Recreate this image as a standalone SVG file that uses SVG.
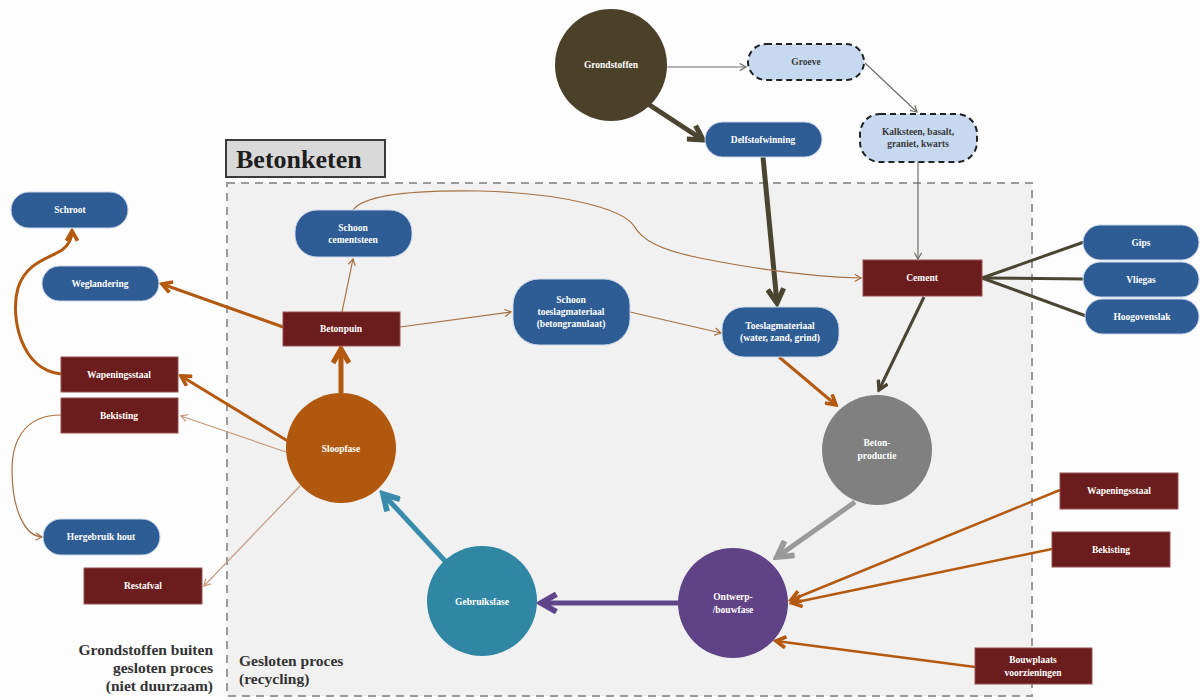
<svg xmlns="http://www.w3.org/2000/svg" width="1200" height="700" viewBox="0 0 1200 700">
<defs>
<style>
.t{font-family:"Liberation Serif","DejaVu Serif",serif;font-size:9.5px;font-weight:bold;fill:#fff;text-anchor:middle}
.td{font-family:"Liberation Serif","DejaVu Serif",serif;font-size:9.5px;font-weight:bold;fill:#3a3a3a;text-anchor:middle}
.blue{fill:#2e5c95;stroke:#c9d7ea;stroke-width:1}
.red{fill:#6b1c1c;stroke:#9a5050;stroke-width:1}
.lb{fill:#c6d9f0;stroke:#222;stroke-width:2;stroke-dasharray:6,4}
.big{font-family:"Liberation Serif","DejaVu Serif",serif;font-size:15.5px;font-weight:bold;fill:#333}
path,line{fill:none}
</style>
<marker id="aOl" viewBox="0 0 10 10" refX="8" refY="5" markerUnits="userSpaceOnUse" markerWidth="20" markerHeight="20" orient="auto"><path d="M1,1 L8,5 L1,9" fill="none" stroke="#4a4530" stroke-width="2.6"/></marker>
<marker id="aOm" viewBox="0 0 10 10" refX="8" refY="5" markerUnits="userSpaceOnUse" markerWidth="13" markerHeight="13" orient="auto"><path d="M1,1 L8,5 L1,9" fill="none" stroke="#4a4530" stroke-width="2.6"/></marker>
<marker id="aGt" viewBox="0 0 10 10" refX="8" refY="5" markerUnits="userSpaceOnUse" markerWidth="9" markerHeight="9" orient="auto"><path d="M1,1 L8,5 L1,9" fill="none" stroke="#6f6f6a" stroke-width="1.4"/></marker>
<marker id="aOrL" viewBox="0 0 10 10" refX="8" refY="5" markerUnits="userSpaceOnUse" markerWidth="20" markerHeight="20" orient="auto"><path d="M1,1 L8,5 L1,9" fill="none" stroke="#b45a10" stroke-width="2.6"/></marker>
<marker id="aOrM" viewBox="0 0 10 10" refX="8" refY="5" markerUnits="userSpaceOnUse" markerWidth="14" markerHeight="14" orient="auto"><path d="M1,1 L8,5 L1,9" fill="none" stroke="#b45a10" stroke-width="2.6"/></marker>
<marker id="aOrT" viewBox="0 0 10 10" refX="8" refY="5" markerUnits="userSpaceOnUse" markerWidth="9" markerHeight="9" orient="auto"><path d="M1,1 L8,5 L1,9" fill="none" stroke="#a8703f" stroke-width="1.4"/></marker>
<marker id="aLt" viewBox="0 0 10 10" refX="8" refY="5" markerUnits="userSpaceOnUse" markerWidth="9" markerHeight="9" orient="auto"><path d="M1,1 L8,5 L1,9" fill="none" stroke="#c49a80" stroke-width="1.4"/></marker>
<marker id="aGr" viewBox="0 0 10 10" refX="8" refY="5" markerUnits="userSpaceOnUse" markerWidth="22" markerHeight="22" orient="auto"><path d="M1,1 L8,5 L1,9" fill="none" stroke="#9a9a9a" stroke-width="2.6"/></marker>
<marker id="aPu" viewBox="0 0 10 10" refX="8" refY="5" markerUnits="userSpaceOnUse" markerWidth="22" markerHeight="22" orient="auto"><path d="M1,1 L8,5 L1,9" fill="none" stroke="#5f468c" stroke-width="2.6"/></marker>
<marker id="aTe" viewBox="0 0 10 10" refX="8" refY="5" markerUnits="userSpaceOnUse" markerWidth="22" markerHeight="22" orient="auto"><path d="M1,1 L8,5 L1,9" fill="none" stroke="#3a8cad" stroke-width="2.6"/></marker>
</defs>
<rect width="1200" height="700" fill="#fdfdfd"/>
<rect x="227" y="183" width="805" height="513" fill="#f1f1f1" stroke="#9a9a9a" stroke-width="2" stroke-dasharray="8,6"/>
<g id="title"><rect x="226" y="140" width="159" height="37" fill="#d9d9d9" stroke="#3a3a3a" stroke-width="2"/><text x="236" y="168" font-family="Liberation Serif, serif" font-size="26" font-weight="bold" fill="#1e1e1e">Betonketen</text></g>
<g id="labels">
<text class="big" text-anchor="end" x="213" y="655">Grondstoffen buiten</text>
<text class="big" text-anchor="end" x="213" y="673">gesloten proces</text>
<text class="big" text-anchor="end" x="213" y="691">(niet duurzaam)</text>
<text class="big" x="239" y="666">Gesloten proces</text>
<text class="big" x="239" y="684">(recycling)</text>
</g>
<g id="connectors">
<line x1="667" y1="67" x2="746" y2="67" stroke="#6f6f6a" stroke-width="1.2" marker-end="url(#aGt)"/>
<line x1="865" y1="63" x2="917" y2="112" stroke="#6f6f6a" stroke-width="1.2" marker-end="url(#aGt)"/>
<line x1="918" y1="162" x2="918" y2="259" stroke="#6f6f6a" stroke-width="1.2" marker-end="url(#aGt)"/>
<line x1="645" y1="102" x2="703" y2="140" stroke="#4a4530" stroke-width="5" marker-end="url(#aOl)"/>
<line x1="763" y1="157" x2="777" y2="303" stroke="#4a4530" stroke-width="5" marker-end="url(#aOl)"/>
<line x1="982" y1="278" x2="1084" y2="242" stroke="#4a4530" stroke-width="3"/>
<line x1="982" y1="278" x2="1084" y2="279" stroke="#4a4530" stroke-width="3"/>
<line x1="982" y1="278" x2="1086" y2="316" stroke="#4a4530" stroke-width="3"/>
<line x1="924" y1="297" x2="879" y2="390" stroke="#4a4530" stroke-width="3" marker-end="url(#aOm)"/>
<line x1="779" y1="357" x2="836" y2="405" stroke="#b45a10" stroke-width="3" marker-end="url(#aOrM)"/>
<line x1="855" y1="502" x2="777" y2="557" stroke="#9a9a9a" stroke-width="5" marker-end="url(#aGr)"/>
<line x1="678" y1="603" x2="541" y2="603" stroke="#5f468c" stroke-width="5" marker-end="url(#aPu)"/>
<line x1="446" y1="562" x2="383" y2="494" stroke="#3a8cad" stroke-width="5" marker-end="url(#aTe)"/>
<line x1="341" y1="393" x2="341" y2="349" stroke="#b45a10" stroke-width="5" marker-end="url(#aOrL)"/>
<line x1="283" y1="327" x2="162" y2="284" stroke="#b45a10" stroke-width="3" marker-end="url(#aOrM)"/>
<line x1="291" y1="443" x2="181" y2="376" stroke="#b45a10" stroke-width="3" marker-end="url(#aOrM)"/>
<line x1="286" y1="452" x2="181" y2="416" stroke="#c49a80" stroke-width="1.2" marker-end="url(#aLt)"/>
<line x1="300" y1="486" x2="204" y2="586" stroke="#c49a80" stroke-width="1.2" marker-end="url(#aLt)"/>
<line x1="342" y1="312" x2="353" y2="259" stroke="#a8703f" stroke-width="1.2" marker-end="url(#aOrT)"/>
<line x1="400" y1="327" x2="511" y2="312" stroke="#a8703f" stroke-width="1.2" marker-end="url(#aOrT)"/>
<line x1="630" y1="312" x2="721" y2="333" stroke="#a8703f" stroke-width="1.2" marker-end="url(#aOrT)"/>
<path d="M353,210 C365,193 420,190 480,191 C560,193 622,208 634,226 C642,240 660,250 700,258 C760,270 820,277 861,278" stroke="#a8703f" stroke-width="1.2" marker-end="url(#aOrT)"/>
<path d="M61,374 C20,370 10,315 18,288 C26,262 50,258 62,250 C70,244 72,238 72,231" stroke="#b45a10" stroke-width="3" marker-end="url(#aOrM)"/>
<path d="M61,415 C25,415 12,440 12,470 C12,510 25,536 42,537" stroke="#a8703f" stroke-width="1.2" marker-end="url(#aOrT)"/>
<line x1="1060" y1="490" x2="791" y2="600" stroke="#b45a10" stroke-width="2.5" marker-end="url(#aOrM)"/>
<line x1="1052" y1="549" x2="792" y2="603" stroke="#b45a10" stroke-width="2.5" marker-end="url(#aOrM)"/>
<line x1="975" y1="667" x2="776" y2="641" stroke="#b45a10" stroke-width="2.5" marker-end="url(#aOrM)"/>
</g>
<g id="grondstoffen"><circle cx="611" cy="65" r="56" fill="#4b4128"/><text class="t" x="611" y="68">Grondstoffen</text></g>
<g id="groeve"><rect class="lb" x="748" y="44" width="116" height="36" rx="18"/><text class="td" x="806" y="65">Groeve</text></g>
<g id="kalksteen"><rect class="lb" x="860" y="114" width="117" height="48" rx="20"/><text class="td" x="918" y="135">Kalksteen, basalt,</text><text class="td" x="918" y="147">graniet, kwarts</text></g>
<g id="delfstofwinning"><rect class="blue" x="705" y="122" width="117" height="35" rx="17.5"/><text class="t" x="763" y="143">Delfstofwinning</text></g>
<g id="schroot"><rect class="blue" x="11" y="192" width="117" height="36" rx="18"/><text class="t" x="70" y="213">Schroot</text></g>
<g id="weglandering"><rect class="blue" x="42" y="266" width="117" height="35" rx="17.5"/><text class="t" x="100" y="287">Weglandering</text></g>
<g id="schoon-cementsteen"><rect class="blue" x="295" y="210" width="117" height="47" rx="22"/><text class="t" x="353" y="231">Schoon</text><text class="t" x="353" y="243">cementsteen</text></g>
<g id="betonpuin"><rect class="red" x="283" y="312" width="117" height="34"/><text class="t" x="341" y="332">Betonpuin</text></g>
<g id="schoon-toeslag"><rect class="blue" x="513" y="279" width="117" height="66" rx="26"/><text class="t" x="571" y="303">Schoon</text><text class="t" x="571" y="315">toeslagmateriaal</text><text class="t" x="571" y="327">(betongranulaat)</text></g>
<g id="toeslagmateriaal"><rect class="blue" x="722" y="307" width="117" height="50" rx="22"/><text class="t" x="780" y="329">Toeslagmateriaal</text><text class="t" x="780" y="341">(water, zand, grind)</text></g>
<g id="cement"><rect class="red" x="863" y="260" width="119" height="36"/><text class="t" x="922" y="281">Cement</text></g>
<g id="gips"><rect class="blue" x="1083" y="225" width="116" height="35" rx="17.5"/><text class="t" x="1141" y="246">Gips</text></g>
<g id="vliegas"><rect class="blue" x="1083" y="262" width="116" height="35" rx="17.5"/><text class="t" x="1141" y="283">Vliegas</text></g>
<g id="hoogovenslak"><rect class="blue" x="1085" y="299" width="114" height="35" rx="17.5"/><text class="t" x="1142" y="320">Hoogovenslak</text></g>
<g id="wapeningsstaal-l"><rect class="red" x="61" y="357" width="117" height="35"/><text class="t" x="119" y="378">Wapeningsstaal</text></g>
<g id="bekisting-l"><rect class="red" x="61" y="398" width="117" height="35"/><text class="t" x="119" y="419">Bekisting</text></g>
<g id="sloopfase"><circle cx="341" cy="448" r="55" fill="#b0590e"/><text class="t" x="341" y="452">Sloopfase</text></g>
<g id="hergebruik-hout"><rect class="blue" x="43" y="519" width="117" height="36" rx="18"/><text class="t" x="101" y="540">Hergebruik hout</text></g>
<g id="restafval"><rect class="red" x="84" y="568" width="118" height="36"/><text class="t" x="143" y="589">Restafval</text></g>
<g id="betonproductie"><circle cx="877" cy="450" r="55" fill="#808080"/><text class="t" x="877" y="446">Beton-</text><text class="t" x="877" y="459">productie</text></g>
<g id="ontwerp"><circle cx="733" cy="603" r="55" fill="#5f4386"/><text class="t" x="733" y="600">Ontwerp-</text><text class="t" x="733" y="613">/bouwfase</text></g>
<g id="gebruiksfase"><circle cx="482" cy="601" r="55" fill="#2f87a3"/><text class="t" x="482" y="605">Gebruiksfase</text></g>
<g id="wapeningsstaal-r"><rect class="red" x="1060" y="473" width="118" height="36"/><text class="t" x="1119" y="494">Wapeningsstaal</text></g>
<g id="bekisting-r"><rect class="red" x="1052" y="532" width="118" height="35"/><text class="t" x="1111" y="553">Bekisting</text></g>
<g id="bouwplaats"><rect class="red" x="975" y="648" width="117" height="36"/><text class="t" x="1033" y="663">Bouwplaats</text><text class="t" x="1033" y="676">voorzieningen</text></g>
</svg>
